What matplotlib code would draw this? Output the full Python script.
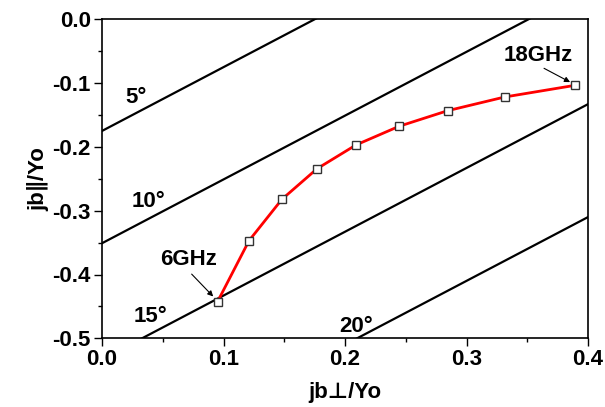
import matplotlib.pyplot as plt
import numpy as np
from matplotlib.ticker import MultipleLocator

plt.rcParams['font.family'] = ['Liberation Sans', 'DejaVu Sans']
plt.rcParams['font.weight'] = 'bold'
plt.rcParams['axes.unicode_minus'] = False

# measured response, 6 GHz -> 18 GHz
jb_perp = [0.0951, 0.1210, 0.1481, 0.1770, 0.2090, 0.2445, 0.2844, 0.3314, 0.3893]
jb_par = [-0.4426, -0.3470, -0.2821, -0.2342, -0.1970, -0.1677, -0.1433, -0.1218, -0.1035]

# constant-angle lines (read as straight lines, y = x + offset)
angle_labels = ['5°', '10°', '15°', '20°']
angle_offsets = [-0.175, -0.351, -0.533, -0.71]
label_pos = [(0.028, -0.123), (0.038, -0.285), (0.040, -0.466), (0.209, -0.481)]

fs = 16

fig = plt.figure(figsize=(6.05, 4.07), dpi=100)
ax = fig.add_axes([102 / 605, 1 - 338.3 / 407, 486 / 605, 319 / 407])

xs = np.array([0.0, 0.4])
for off in angle_offsets:
    ax.plot(xs, xs + off, color='black', lw=1.6)

ax.plot(jb_perp, jb_par, color='red', lw=2, marker='s', ms=6,
        mfc='white', mec='#333333', mew=1)

ax.set_xlim(0, 0.4)
ax.set_ylim(-0.5, 0)

for lab, (lx, ly) in zip(angle_labels, label_pos):
    ax.text(lx, ly, lab, fontsize=fs, fontweight='bold', ha='center', va='center')

ax.annotate('6GHz', xy=(jb_perp[0] - 0.002, jb_par[0] + 0.005), xytext=(0.0708, -0.377),
            fontsize=fs, fontweight='bold', ha='center', va='center',
            arrowprops=dict(arrowstyle='-|>', color='black', lw=0.8, mutation_scale=8,
                            shrinkA=1, shrinkB=2, relpos=(0.5, 0)))
ax.annotate('18GHz', xy=(jb_perp[-1] - 0.002, jb_par[-1] + 0.003), xytext=(0.359, -0.056),
            fontsize=fs, fontweight='bold', ha='center', va='center',
            arrowprops=dict(arrowstyle='-|>', color='black', lw=0.8, mutation_scale=8,
                            shrinkA=0, shrinkB=2, relpos=(0.48, 0.05)))

ax.xaxis.set_major_locator(MultipleLocator(0.1))
ax.xaxis.set_minor_locator(MultipleLocator(0.05))
ax.yaxis.set_major_locator(MultipleLocator(0.1))
ax.yaxis.set_minor_locator(MultipleLocator(0.05))
ax.tick_params(which='major', direction='out', length=6, width=1, labelsize=fs)
ax.tick_params(which='minor', direction='out', length=3, width=1)
ax.tick_params(axis='x', pad=2)
ax.tick_params(axis='y', pad=2)
for lab in ax.get_xticklabels() + ax.get_yticklabels():
    lab.set_fontweight('bold')
for s in ax.spines.values():
    s.set_linewidth(1.2)

ax.set_xlabel('jb⊥/Yo', fontsize=fs, fontweight='bold', labelpad=8)
ax.set_ylabel('jb∥/Yo', fontsize=fs, fontweight='bold', labelpad=2)

fig.savefig('out.png', dpi=100)
